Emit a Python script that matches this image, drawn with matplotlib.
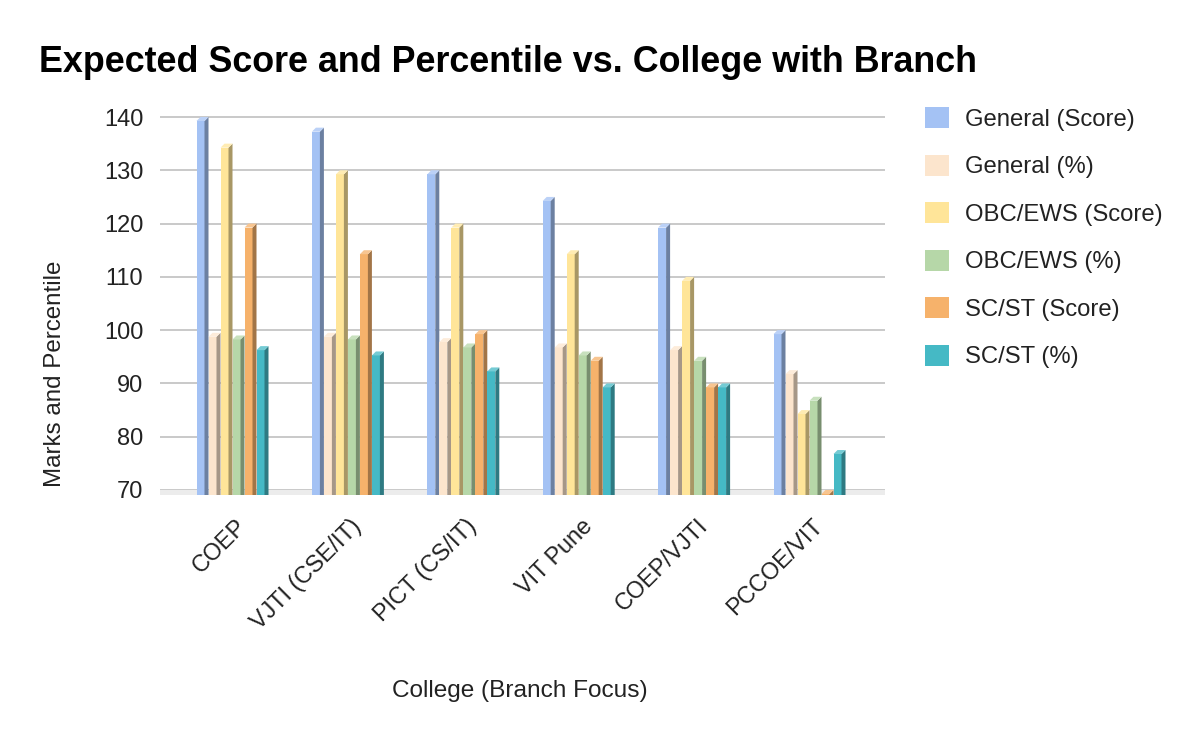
import matplotlib
matplotlib.use("Agg")
import matplotlib.pyplot as plt
from matplotlib.colors import to_rgb
from matplotlib.patches import Patch, Polygon
from matplotlib.transforms import ScaledTranslation

colleges = ["COEP", "VJTI (CSE/IT)", "PICT (CS/IT)", "VIT Pune", "COEP/VJTI", "PCCOE/VIT"]
general_score = [140, 138, 130, 125, 120, 100]
general_pct = [99.5, 99.5, 98.5, 97.5, 97, 92.5]
obc_score = [135, 130, 120, 115, 110, 85]
obc_pct = [99, 99, 97.5, 96, 95, 87.5]
sc_score = [120, 115, 100, 95, 90, 70]
sc_pct = [97, 96, 93, 90, 90, 77.5]

names = ["General (Score)", "General (%)", "OBC/EWS (Score)", "OBC/EWS (%)", "SC/ST (Score)", "SC/ST (%)"]
series = [general_score, general_pct, obc_score, obc_pct, sc_score, sc_pct]
colors = ["#a4c2f4", "#fce5cd", "#ffe599", "#b6d7a8", "#f6b26b", "#45b9c5"]

plt.rcParams["font.family"] = ["Liberation Sans", "DejaVu Sans"]

fig = plt.figure(figsize=(12, 7.42), dpi=100)
# axes box in pixels: left 160, right 885, top 110, bottom 495
ax = fig.add_axes([160 / 1200, 1 - 495 / 742, 725 / 1200, 385 / 742])

px_x = 1 / 115.4
px_y = 70 / 373
base = 70 - 5 * px_y
ax.set_xlim(-72.5 * px_x, 652.5 * px_x)
ax.set_ylim(base, 140 + 7 * px_y)

slot = 12 * px_x
front = 8 * px_x
dx = 4 * px_x
dy = 4 * px_y


def shade(color, k):
    return tuple(c * k for c in to_rgb(color))


def tint(color, k):
    return tuple(c + (1 - c) * k for c in to_rgb(color))


for i, (vals, col) in enumerate(zip(series, colors)):
    for j, v in enumerate(vals):
        x0 = j + (i - 3) * slot
        top = v - dy
        ax.bar(x0, top - base, bottom=base, width=front, align="edge", color=col, lw=0, zorder=3)
        ax.add_patch(Polygon([(x0 + front, base), (x0 + front + dx, base), (x0 + front + dx, top + dy),
                              (x0 + front, top)], fc=shade(col, 0.66), lw=0, zorder=3))
        ax.add_patch(Polygon([(x0, top), (x0 + front, top), (x0 + front + dx, top + dy), (x0 + dx, top + dy)],
                             fc=tint(col, 0.25), lw=0, zorder=3))

# floor of the 3d plot
ax.axhspan(base, 70, color="#ececec", lw=0, zorder=1)
ax.set_yticks(range(70, 141, 10))
ax.grid(axis="y", color="#c9c9c9", lw=1.4, zorder=2)
ax.set_axisbelow(True)
for s in ax.spines.values():
    s.set_visible(False)
ax.tick_params(axis="y", length=0, labelsize=17, pad=12, labelcolor="#222222")
ax.tick_params(axis="x", length=0, labelsize=16.8, pad=14, labelcolor="#222222")
ax.set_xticks(range(len(colleges)))
ax.set_xticklabels(colleges, rotation=45, ha="right", rotation_mode="anchor")
shift = ScaledTranslation(2 / 100, 0, fig.dpi_scale_trans)
for lab in ax.get_xticklabels():
    lab.set_transform(lab.get_transform() + shift)

fig.text(520 / 1200, 1 - 691 / 742, "College (Branch Focus)", ha="center", va="center", fontsize=17.6, color="#222222")
fig.text(55 / 1200, 1 - 374 / 742, "Marks and Percentile", rotation=90, ha="center", va="center",
         fontsize=17.4, color="#222222")
fig.text(39 / 1200, 1 - 62 / 742, "Expected Score and Percentile vs. College with Branch", ha="left", va="center",
         fontsize=25.85, fontweight="bold", color="black")

handles = [Patch(fc=c, lw=0) for c in colors]
fig.legend(handles, names, loc="upper left", bbox_to_anchor=(925 / 1200, 1 - 107 / 742), bbox_transform=fig.transFigure,
           frameon=False, fontsize=17.2, handlelength=1.0, handleheight=1.0, handletextpad=0.68,
           labelspacing=0.99, borderpad=0, borderaxespad=0, labelcolor="#222222")

fig.savefig("out.png", dpi=100)
